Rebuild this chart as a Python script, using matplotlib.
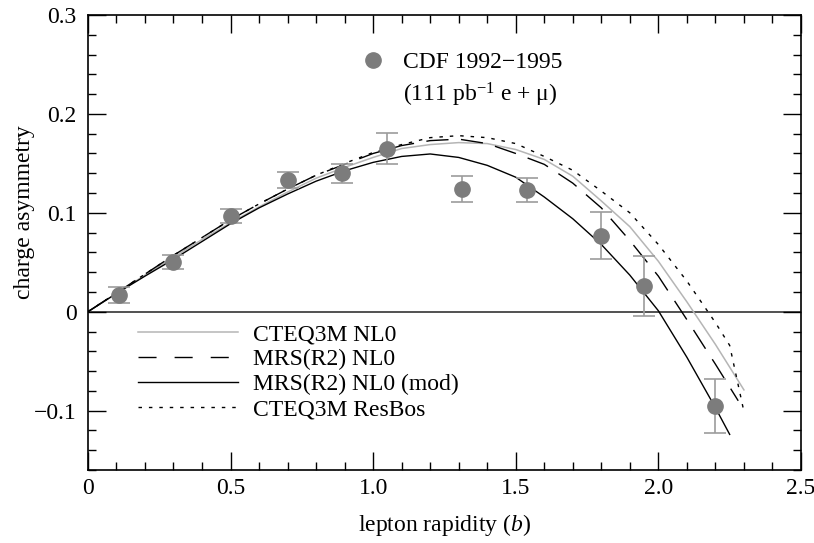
import numpy as np
import matplotlib
matplotlib.use("Agg")
import matplotlib.pyplot as plt
from matplotlib.lines import Line2D

plt.rcParams['font.family'] = ['Liberation Serif', 'DejaVu Serif']
plt.rcParams['mathtext.fontset'] = 'custom'
plt.rcParams['mathtext.rm'] = 'Liberation Serif'
plt.rcParams['mathtext.it'] = 'Liberation Serif:italic'

# CDF W charge asymmetry data points
data_y = [0.11, 0.30, 0.50, 0.70, 0.89, 1.05, 1.31, 1.54, 1.80, 1.95, 2.20]
data_asym = [0.017, 0.050, 0.097, 0.133, 0.140, 0.165, 0.124, 0.123, 0.077, 0.026, -0.095]
data_err = [0.008, 0.007, 0.007, 0.008, 0.0095, 0.0155, 0.013, 0.012, 0.024, 0.0305, 0.0275]

# theory curves
y_grid = [0.0, 0.1, 0.2, 0.3, 0.4, 0.5, 0.6, 0.7, 0.8, 0.9, 1.0, 1.1,
          1.2, 1.3, 1.4, 1.5, 1.6, 1.7, 1.8, 1.9, 2.0, 2.1, 2.2]
cteq_nlo = [0.0, 0.0185, 0.037, 0.055, 0.073, 0.090, 0.106, 0.121, 0.135, 0.146, 0.156, 0.165,
            0.169, 0.171, 0.170, 0.164, 0.154, 0.137, 0.112, 0.086, 0.051, 0.010, -0.033]
cteq_nlo_end = (2.3, -0.079)
mrs_nlo = [0.0, 0.019, 0.038, 0.057, 0.075, 0.093, 0.109, 0.124, 0.138, 0.149, 0.160, 0.168,
           0.173, 0.1745, 0.170, 0.160, 0.149, 0.130, 0.105, 0.072, 0.036, -0.008, -0.053]
mrs_nlo_end = (2.28, -0.090)
mrs_mod = [0.0, 0.0185, 0.036, 0.053, 0.071, 0.089, 0.105, 0.119, 0.132, 0.1425, 0.151, 0.157,
           0.1595, 0.156, 0.148, 0.136, 0.116, 0.094, 0.068, 0.037, 0.001, -0.046, -0.097]
mrs_mod_end = (2.25, -0.124)
resbos = [0.0, 0.019, 0.038, 0.057, 0.075, 0.093, 0.109, 0.124, 0.138, 0.150, 0.161, 0.169,
          0.176, 0.178, 0.176, 0.170, 0.157, 0.143, 0.122, 0.100, 0.068, 0.031, -0.011]
resbos_end_x = [2.25, 2.3]
resbos_end_y = [-0.034, -0.101]

curve_labels = ['CTEQ3M NL0', 'MRS(R2) NL0', 'MRS(R2) NL0 (mod)', 'CTEQ3M ResBos']

x_ticks = [0, 0.5, 1.0, 1.5, 2.0, 2.5]
x_ticklabels = ['0', '0.5', '1.0', '1.5', '2.0', '2.5']
y_ticks = [-0.1, 0, 0.1, 0.2, 0.3]
y_ticklabels = ['\u22120.1', '0', '0.1', '0.2', '0.3']

fs = 17
grey_line = '#b5b5b5'
pt_col = '#7c7c7c'

fig = plt.figure(figsize=(8.14, 5.43), dpi=100)
ax = fig.add_axes([0.108, 0.1344, 0.876, 0.838])

ax.axhline(0, color='#333333', lw=1.2, zorder=1)

ax.plot(y_grid + [cteq_nlo_end[0]], cteq_nlo + [cteq_nlo_end[1]],
        color=grey_line, lw=1.1, zorder=2)
ax.plot(y_grid + [mrs_nlo_end[0]], mrs_nlo + [mrs_nlo_end[1]],
        color='black', lw=1.0, dashes=(16, 9), zorder=2)
ax.plot(y_grid + [mrs_mod_end[0]], mrs_mod + [mrs_mod_end[1]],
        color='black', lw=1.0, zorder=2)
ax.plot(y_grid + resbos_end_x, resbos + resbos_end_y,
        color='black', lw=1.0, dashes=(2.5, 5), zorder=2)

ax.errorbar(data_y, data_asym, yerr=data_err, fmt='o', color=pt_col, ms=11,
            mec=pt_col, ecolor='#9c9c9c', elinewidth=1.2, capsize=8, capthick=1.2,
            zorder=3)

ax.set_xlim(0, 2.5)
ax.set_ylim(-0.16, 0.3)
ax.set_xticks(x_ticks)
ax.set_xticklabels(x_ticklabels)
ax.set_yticks(y_ticks)
ax.set_yticklabels(y_ticklabels)
ax.set_xticks(np.arange(0, 2.51, 0.1), minor=True)
ax.set_yticks(np.arange(-0.16, 0.301, 0.02), minor=True)
ax.tick_params(which='both', direction='in', top=True, right=True, labelsize=fs,
               width=1.0, color='black')
ax.tick_params(which='major', length=13)
ax.tick_params(axis='x', which='major', pad=6)
ax.tick_params(axis='y', which='major', pad=8)
ax.tick_params(which='minor', length=5.5)
for s in ax.spines.values():
    s.set_linewidth(1.2)

ax.set_xlabel('lepton rapidity ($b$)', fontsize=fs, labelpad=9)
ax.set_ylabel('charge asymmetry', fontsize=fs)
ax.yaxis.set_label_coords(-0.0743, 0.567)

# curve legend (longer gaps on the key lines)
keys = [Line2D([], [], color=grey_line, lw=1.1),
        Line2D([], [], color='black', lw=1.0, dashes=(13, 13)),
        Line2D([], [], color='black', lw=1.0),
        Line2D([], [], color='black', lw=1.0, dashes=(2.5, 5))]
leg = ax.legend(keys, curve_labels,
                loc='upper left', bbox_to_anchor=(0.07, 0.322), frameon=False,
                fontsize=fs, handlelength=4.24, handletextpad=0.64, labelspacing=0.15,
                borderpad=0, borderaxespad=0)
ax.add_artist(leg)

# data legend
cdf_handle = Line2D([], [], ls='none', marker='o', ms=11, color=pt_col)
ax.legend([cdf_handle], ['CDF 1992\u22121995'], loc='upper left',
          bbox_to_anchor=(0.383, 0.919), frameon=False, fontsize=fs,
          handlelength=1.0, handletextpad=0.77, borderpad=0, borderaxespad=0)
ax.text(0.4418, 0.824, '(111 pb$^{\u22121}$ e + \u03bc)', transform=ax.transAxes,
        fontsize=fs, va='center', ha='left')

fig.savefig('out.png', dpi=100)
